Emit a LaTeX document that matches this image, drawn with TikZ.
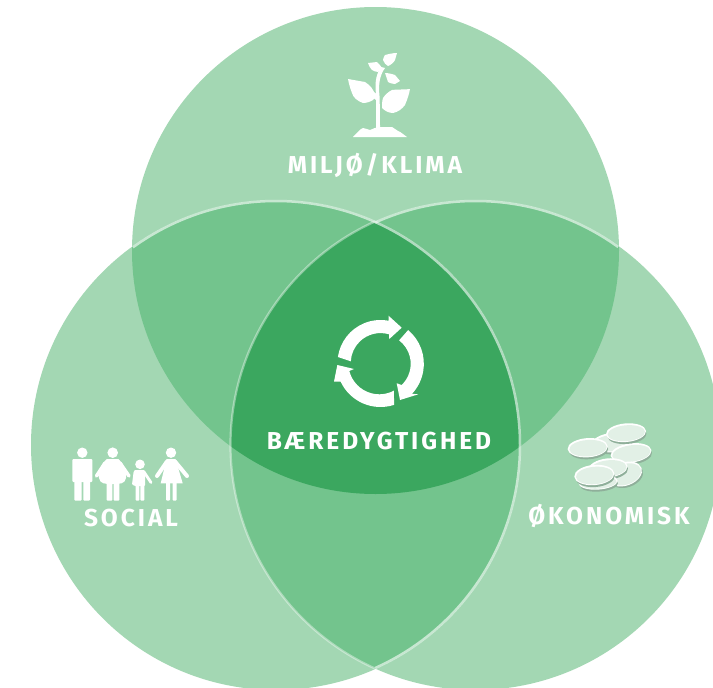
\documentclass[tikz,border=0pt]{standalone}
\usepackage{fontspec}
\setmainfont[LetterSpace=12]{Fira Sans}
\definecolor{one}{HTML}{A3D7B3}
\definecolor{two}{HTML}{73C48D}
\definecolor{three}{HTML}{3BA75F}
\definecolor{coin}{HTML}{E2F0E6}
\definecolor{coinedge}{HTML}{8FAF9A}
\tikzset{
  label text/.style={text=white,font=\fontsize{24.5}{26}\selectfont\bfseries,inner sep=0pt,anchor=center},
  icon/.style={fill=white,draw=none},
  limb/.style={draw=white,line width=4pt,line cap=round},
  legbar/.style={fill=white,draw=none,rounded corners=1pt},
  rim strong/.style={draw=white,draw opacity=0.6,line width=2.5pt},
  rim faint/.style={draw=white,draw opacity=0.4,line width=2.2pt},
}
\newcommand{\coinshape}[5]{% x y rx ry rot
  \begin{scope}[shift={(#1,#2)},rotate=#5]
    \fill[coinedge] (0.8,2.6) ellipse ({#3} and {#4});
    \fill[white] (0,0) ellipse ({#3+0.6} and {#4+0.6});
    \fill[coin] (0.3,0.5) ellipse ({#3-0.8} and {#4-0.8});
  \end{scope}}
\begin{document}
\begin{tikzpicture}[x=1pt,y=-1pt]
\useasboundingbox (0,0) rectangle (713,688);
\coordinate (T) at (375.5,250.5);
\coordinate (L) at (276,445);
\coordinate (R) at (475.5,445);
\def\rt{243.5}
\def\rad{245}
% single-circle areas
\fill[one] (T) circle[radius=\rt];
\fill[one] (L) circle[radius=\rad];
\fill[one] (R) circle[radius=\rad];
% overlaps
\begin{scope}\clip (T) circle[radius=\rt]; \fill[two] (L) circle[radius=\rad]; \fill[two] (R) circle[radius=\rad];\end{scope}
\begin{scope}\clip (L) circle[radius=\rad]; \fill[two] (R) circle[radius=\rad];\end{scope}
\begin{scope}\clip (T) circle[radius=\rt]; \clip (L) circle[radius=\rad]; \fill[three] (R) circle[radius=\rad];\end{scope}
% rims (inner arcs only)
\begin{scope}\clip (R) -- (275,0) -- (796,0) -- cycle; \draw[rim strong] (R) circle[radius=\rad-1];\end{scope}
\begin{scope}\clip (R) -- (275,0) -- (0,0) -- (0,688) -- (366,688) -- cycle; \draw[rim faint] (R) circle[radius=\rad];\end{scope}
\begin{scope}\clip (L) -- (-46,0) -- (713,0) -- (713,688) -- (384,688) -- cycle; \draw[rim strong] (L) circle[radius=\rad-1];\end{scope}
% plant
\fill[icon] (353,137) .. controls (357,133) and (360,129) .. (363,128) .. controls (366,128) and (368,130) .. (370,130) .. controls (373,129) and (376,127) .. (379,127) -- (392,127) .. controls (394,128) and (396,130) .. (398,131) .. controls (401,132) and (404,135) .. (407,137) -- cycle;
\fill[icon] (376,130) -- (376,100) .. controls (373,98) and (372,96) .. (371,94) -- (374,92) -- (376,94) .. controls (375,85) and (375,76) .. (381,67) -- (385,68) .. controls (379,76) and (378.5,86) .. (379.5,96) .. controls (380,110) and (380,120) .. (380,130) -- cycle;
\fill[icon] (348,79) -- (365,82) .. controls (370,85) and (374,90) .. (375,95) .. controls (375,98) and (374,99) .. (373,100) .. controls (370,102) and (366,103) .. (363,103) .. controls (357,101) and (353,97) .. (352,93) .. controls (350,88) and (349,84) .. (348,79) -- cycle;
\fill[icon] (410,89) .. controls (404,90) and (398,89) .. (392,90) .. controls (388,92) and (385,95) .. (383,98) .. controls (382,101) and (382,105) .. (382,108) .. controls (385,111) and (389,113) .. (393,113) .. controls (398,112) and (402,109) .. (405,105) .. controls (407,100) and (409,95) .. (410,89) -- cycle;
\fill[icon] (397,53) .. controls (393,53) and (389,54) .. (385,55) .. controls (384,57) and (383,58) .. (383,60) .. controls (384,63) and (386,65) .. (388,66) .. controls (391,65) and (394,62) .. (395,60) -- cycle;
\fill[icon] (368,63) .. controls (371,63) and (374,62) .. (377,62) .. controls (379,64) and (381,66) .. (382,68) .. controls (381,70) and (380,71) .. (378,72) .. controls (376,72) and (374,71) .. (372,70) .. controls (370,68) and (369,66) .. (368,63) -- cycle;
\fill[icon] (385,73) .. controls (388,73) and (392,74) .. (395,75) -- (400,81) .. controls (398,82) and (397,83) .. (395,84) .. controls (392,84) and (390,83) .. (388,82) .. controls (387,79) and (386,76) .. (385,73) -- cycle;
% family
\fill[icon] (82.3,452.7) circle[radius=5.2];
\fill[legbar] (72.3,459) rectangle (92.3,482);
\fill[legbar] (74.3,480) rectangle (81.7,500.7);
\fill[legbar] (83.3,480) rectangle (90,500.7);
\fill[icon] (112.7,452.7) circle[radius=5.3];
\fill[icon] (107,459) -- (118.5,459) .. controls (124,464) and (127,472) .. (126,478) .. controls (125,484) and (120,484) .. (112.5,484) .. controls (105,484) and (100,484) .. (99,478) .. controls (98,472) and (101,464) .. (107,459) -- cycle;
\draw[limb,line width=3.5pt] (105,463) -- (96.5,476);
\draw[limb,line width=3.5pt] (120,463) -- (129,476);
\fill[legbar] (106.7,482) rectangle (112.3,500.7);
\fill[legbar] (113.5,482) rectangle (119.3,500.7);
\fill[icon] (140,464.3) circle[radius=4.8];
\fill[legbar] (134,470) rectangle (145,486);
\draw[limb,line width=2.8pt] (135,472) -- (133.5,484);
\draw[limb,line width=2.8pt] (144,472) -- (151,482.5);
\fill[legbar] (135.7,484) rectangle (139.4,500.7);
\fill[legbar] (140.4,484) rectangle (144.3,500.7);
\fill[icon] (171,452.7) circle[radius=5.2];
\fill[icon] (166.5,459) -- (175.5,459) -- (182.7,483.3) -- (160.7,483.3) -- cycle;
\draw[limb] (167,461.5) -- (157,476);
\draw[limb] (175,461.5) -- (187,476);
\fill[legbar] (166,482) rectangle (170,500.7);
\fill[legbar] (172.5,482) rectangle (176.7,500.7);
% coins
\coinshape{612}{442.7}{19}{9}{4}
\coinshape{631}{453}{20}{9}{8}
\coinshape{625}{474}{17}{11}{20}
\coinshape{608}{468}{19}{9}{6}
\coinshape{598}{482}{19}{7}{4}
\coinshape{594.3}{475}{19.5}{9.5}{5}
\coinshape{587.7}{447.7}{19.5}{9}{4}
\coinshape{626}{432.7}{19.5}{8.7}{5}
% cycle arrows
\begin{scope}[shift={(380.5,363)}]
\fill[icon] (188:43) arc[start angle=188,end angle=281,radius=43] -- (8,-47.3) -- (21.2,-35.3) -- (8.8,-24) -- (8.5,-28.7) arc[start angle=286.5,end angle=183,radius=29.8] -- cycle;
\fill[icon] (-50:43) arc[start angle=-50,end angle=43,radius=44] -- (37.8,31.3) -- (19.5,37) -- (16.2,20.3) -- (21.2,22) arc[start angle=46,end angle=-52.6,radius=29.5] -- cycle;
\fill[icon] (72:44) arc[start angle=72,end angle=155,radius=44] -- (-46.5,18.7) -- (-43.2,2) -- (-26.5,6) -- (-31.2,8) arc[start angle=165.6,end angle=62,radius=31] -- cycle;
\end{scope}
% labels
\node[label text] (miljo) at (375,165) {MILJØ/KLIMA};
\node[label text] (baere) at (379,441) {BÆREDYGTIGHED};
\node[label text] (social) at (131,518) {SOCIAL};
\node[label text] (okon) at (609,516) {ØKONOMISK};
\end{tikzpicture}
\end{document}
